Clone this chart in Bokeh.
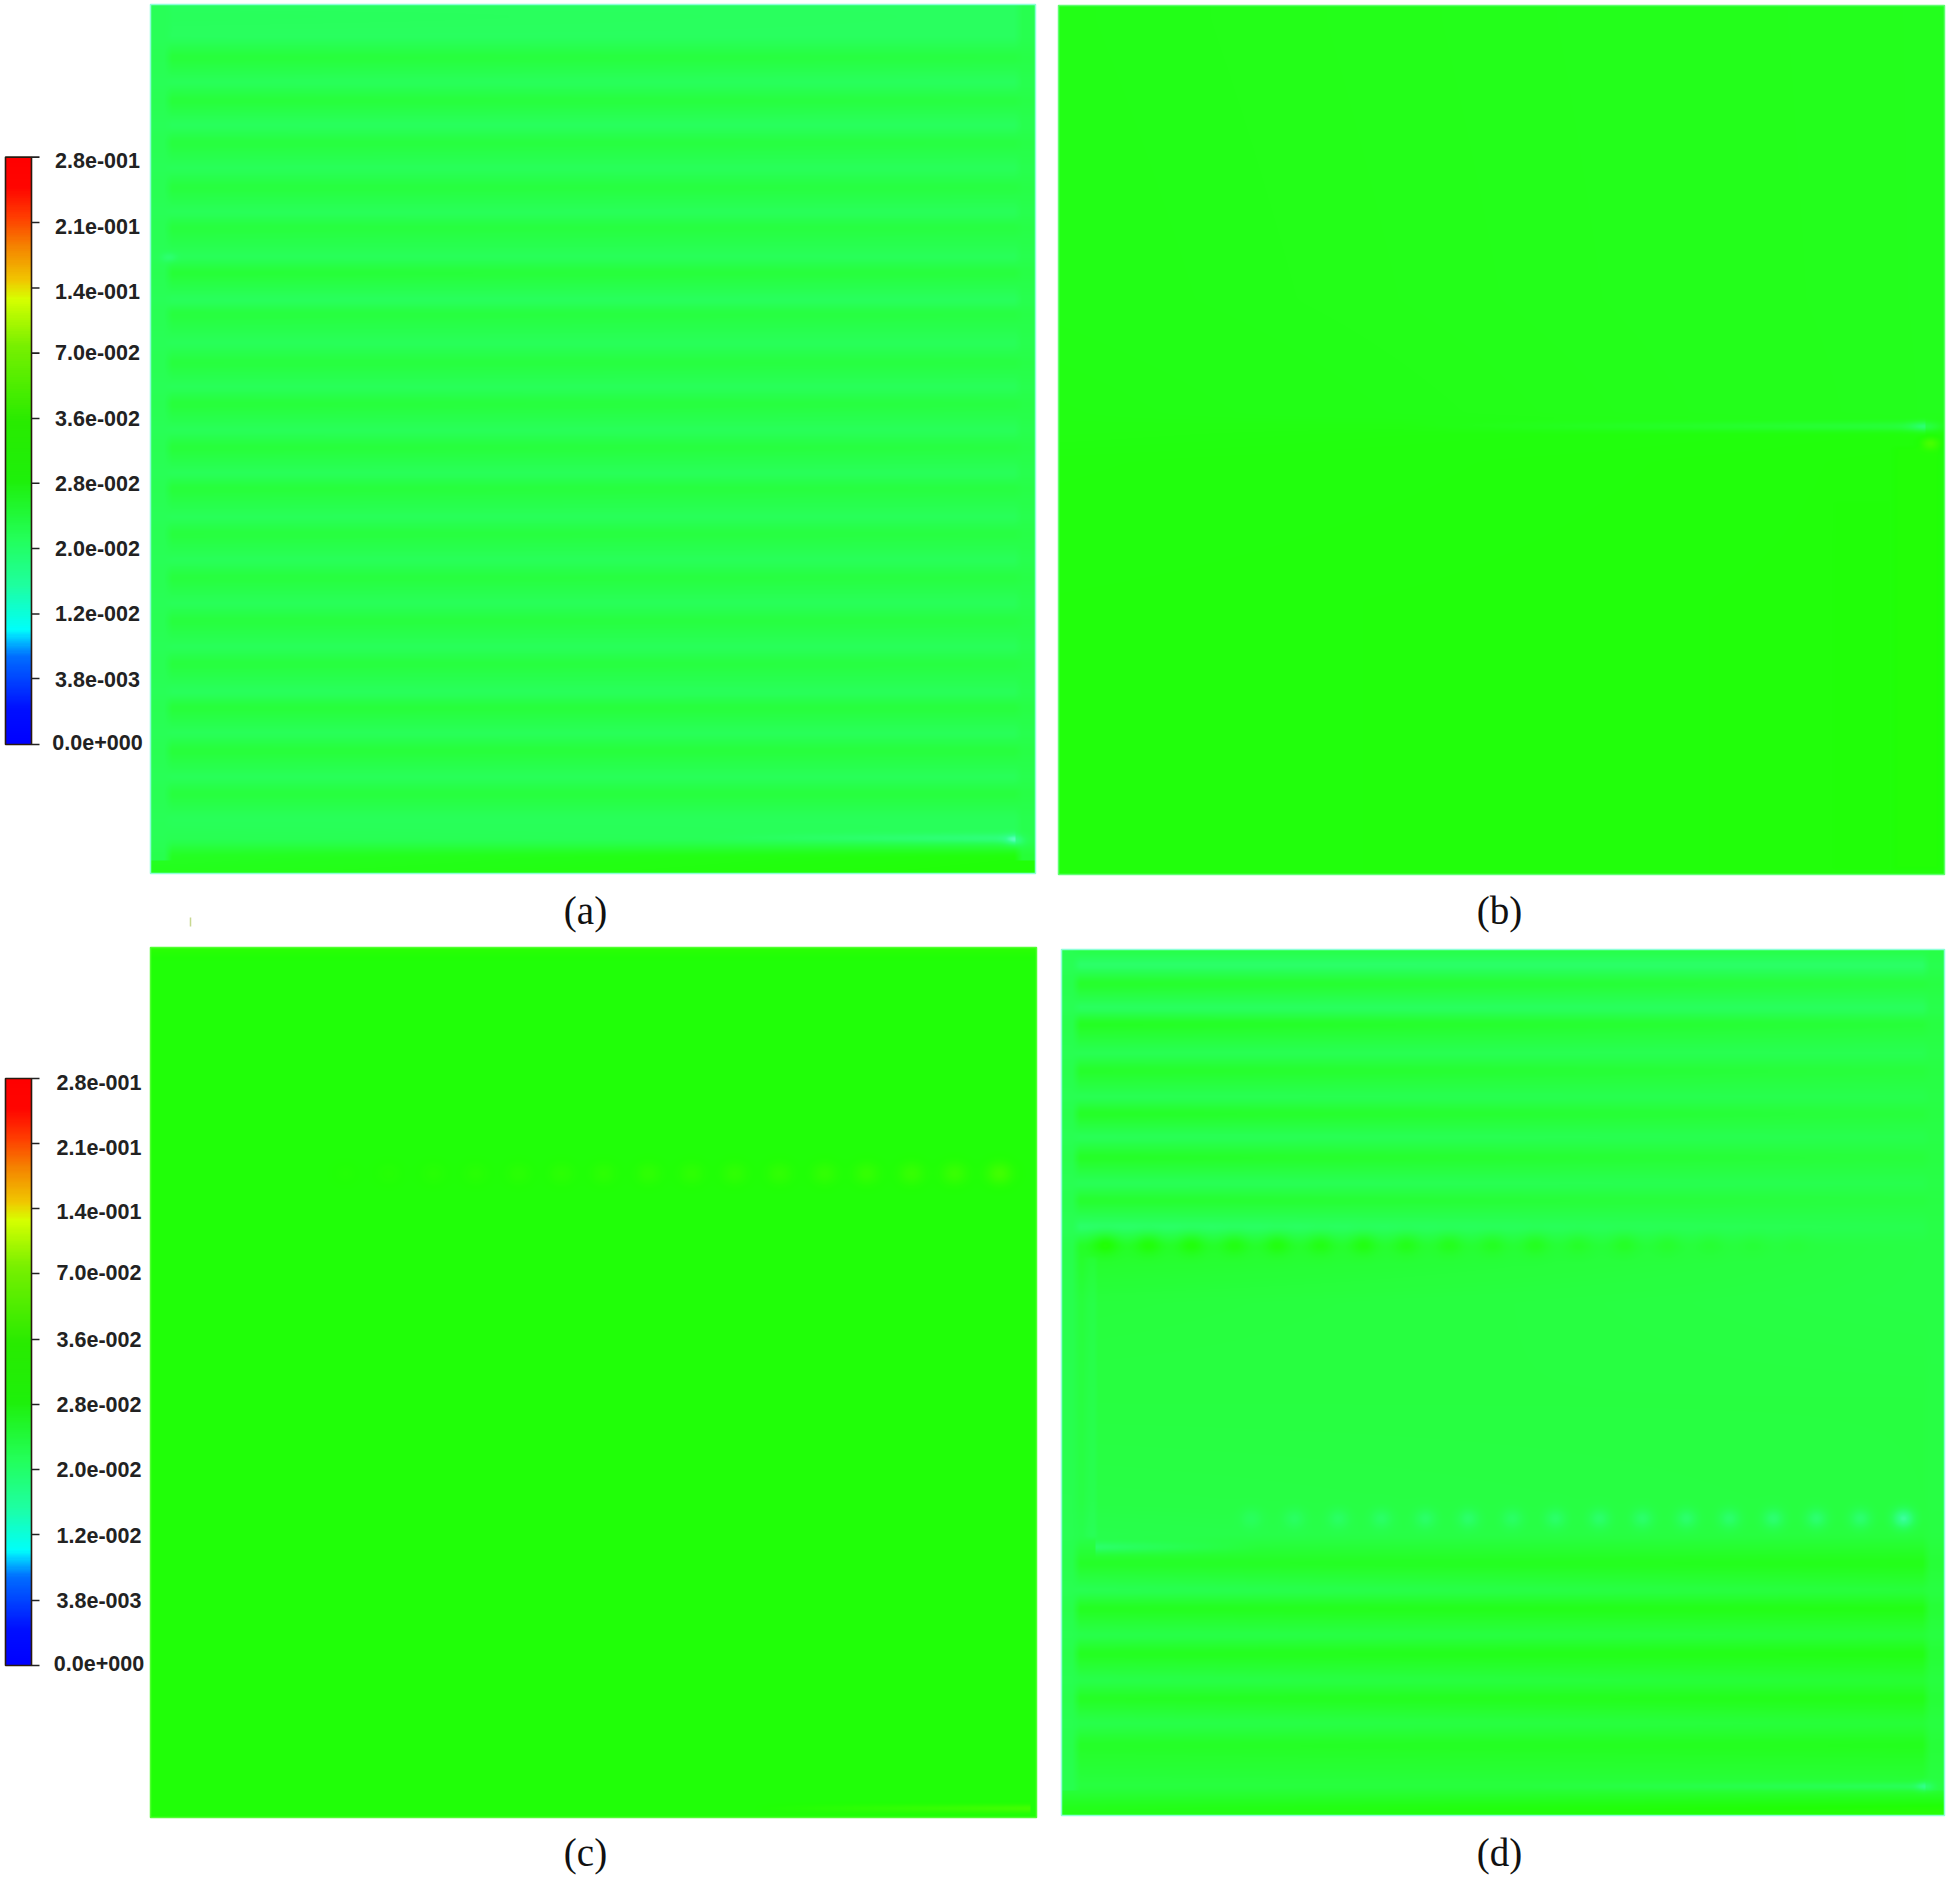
import numpy as np
from bokeh.plotting import figure
from bokeh.models import Range1d, LinearColorMapper
from bokeh.core.properties import value
from bokeh.embed import file_html
from bokeh.resources import INLINE

# colour bar
bar_labels = ["2.8e-001","2.1e-001","1.4e-001","7.0e-002","3.6e-002","2.8e-002","2.0e-002","1.2e-002","3.8e-003","0.0e+000"]
bar_stop_pos = [0,.06,.15,.185,.195,.27,.35,.45,.55,.68,.76,.79,.85,.9,.95,1]
bar_stop_rgb = [(0,0,255),(0,15,255),(0,110,255),(0,220,255),(0,255,250),(30,255,160),(35,255,90),(30,240,10),
                (40,235,0),(120,240,0),(215,255,0),(240,200,0),(245,130,0),(255,60,0),(255,5,0),(255,0,0)]
bar_ticks_top = [156.6,222,287.5,352.6,418,482.7,548,613.5,678,744]
bar_label_top = [160.4,226,291,352,418,482.5,548,613,679,742]
bar_ticks_bot = [1078,1143,1208,1273,1339,1404,1469,1534,1600,1665]
bar_label_bot = [1082,1147,1211,1272,1339,1404,1469,1535,1600,1663]

# field levels: -1 yellow-green ... 0 pure green ... 2 pale green ... 4 cyan-green
level_pos = [-1,0,1,2,3,4]
level_rgb = [(75,255,0),(32,255,6),(38,255,48),(40,255,90),(50,255,140),(120,255,225)]

panel_names = ["(a)","(b)","(c)","(d)"]

a_y = [4,15,37,57,82,100,125,142,168,187,212,227,257,272,300,313,343,362,387,403,430,447,473,488,517,533,560,577,603,620,647,663,692,707,733,750,777,793,818,840,855,873]
a_left = [2.1,2.0,2.1,1.2,2.0,1.2,2.1,1.3,2.0,1.3,2.0,1.3,2.0,1.1,2.1,1.3,2.0,1.3,2.0,1.2,2.0,1.2,2.0,1.2,2.0,1.3,2.0,1.3,2.0,1.3,2.0,1.3,2.1,1.2,2.0,1.2,2.0,1.3,2.0,1.8,.7,.5]
a_right = [2.1,2.1,2.1,1.4,2.1,1.4,2.1,1.4,2.0,1.4,2.0,1.4,2.0,1.3,2.1,1.4,2.0,1.4,2.0,1.4,2.0,1.4,2.0,1.4,2.0,1.4,2.0,1.4,2.0,1.4,2.0,1.4,2.0,1.3,2.0,1.3,2.0,1.3,2.0,2.0,.1,0.0]

b_y = [5,20,300,415,432,460,600,874]
b_left = [.4,.4,.38,.32,.28,.2,.15,.15]
b_right = [.55,.55,.55,.55,.12,.1,.1,.1]

c_y = [947,952,960,1400,1817]
c_left = [-.3,-.1,.05,.05,.05]
c_right = [-.3,-.1,.05,.05,.05]

d_y = [949,965,983,1008,1023,1053,1070,1097,1113,1137,1157,1183,1200,1227,1245,1300,1400,1500,1535,1563,1590,1608,1635,1653,1680,1698,1723,1744,1786,1807,1815]
d_left = [1.5,2.4,.8,2.2,.6,1.9,.8,1.9,.7,2.0,.7,2.0,.9,2.4,.8,1.3,1.4,1.5,1.7,.8,1.9,.6,1.7,.6,1.7,.7,1.7,.8,1.4,.5,.4]
d_right = [1.5,2.3,1.3,2.1,1.2,1.8,1.3,1.7,1.3,1.7,1.3,1.7,1.4,1.7,1.5,1.5,1.4,1.4,1.3,.4,1.3,.3,1.2,.3,1.1,.4,1.2,.5,1.3,-.1,-.2]

# spots: x, y, amount
c_dot_x = [999,954,911,866,824,779,734,691,648,603,561,518,475,433,388,345]
c_dot_amp = [-.8,-.6,-.55,-.5,-.45,-.42,-.4,-.36,-.38,-.32,-.3,-.26,-.22,-.2,-.16,-.1]
d_dark_x = [1105,1148,1191,1234,1277,1320,1363,1406,1449,1492,1535,1578,1624,1667,1710,1753,1796]
d_dark_amp = [-1.0,-.85,-.85,-.7,-.8,-.7,-.8,-.65,-.6,-.5,-.6,-.4,-.5,-.35,-.25,-.18,-.12]
d_light_x = [1251,1294,1338,1381,1425,1468,1512,1555,1599,1642,1686,1729,1773,1816,1860,1903]
d_light_amp = [.5,.6,.65,.7,.75,.8,.7,.8,.85,.85,.9,.9,1.0,1.0,1.0,1.8]

LAYOUT = {
 "a": dict(x=150,y=4,w=885,h=869,edge="#8dffd8",ys=a_y,l=a_left,r=a_right,margin=(16,1.9,15,1.6,860)),
 "b": dict(x=1058,y=5,w=886,h=869,edge="#60ff70",ys=b_y,l=b_left,r=b_right,margin=None),
 "c": dict(x=150,y=947,w=886,h=870,edge="#50ff30",ys=c_y,l=c_left,r=c_right,margin=None),
 "d": dict(x=1061,y=949,w=883,h=866,edge="#8dffd8",ys=d_y,l=d_left,r=d_right,margin=(13,1.8,16,1.5,1790)),
}

def stops_palette(pos, rgb, n=256):
    t = np.linspace(pos[0], pos[-1], n)
    c = np.array(rgb, float)
    out = np.stack([np.interp(t, pos, c[:, i]) for i in range(3)], 1).round().astype(int)
    return ["#%02x%02x%02x" % tuple(v) for v in out]

def build(P, spots, streaks, boxes):
    yy = np.arange(P["h"]) + P["y"] + .5
    xx = np.arange(P["w"]) + P["x"] + .5
    kernel = np.ones(7) / 7
    def prof(v):
        s = np.interp(yy, P["ys"], v)
        pad = np.pad(s, 3, mode="edge")
        return np.convolve(pad, kernel, "valid")
    L, R = prof(P["l"]), prof(P["r"])
    t = (xx - P["x"]) / P["w"]
    Z = L[:, None] * (1 - t) + R[:, None] * t
    if P["margin"]:
        ml, vl, mr, vr, ylim = P["margin"]
        wl = np.clip((P["x"] + ml + 6 - xx) / 8, 0, 1)
        wr = np.clip((xx - (P["x"] + P["w"] - mr - 6)) / 8, 0, 1)
        ok = (yy < ylim).astype(float)[:, None]
        Z = Z + (vl - Z) * wl * ok * .85
        Z = Z + (vr - Z) * wr * ok * .7
    X, Y = np.meshgrid(xx, yy)
    for sx0, sy0, sgx, sgy, amp in spots:
        Z += amp * np.exp(-((X - sx0) / sgx) ** 2 - ((Y - sy0) / sgy) ** 2)
    for x0, x1, sy0, sg, a0, a1 in streaks:
        ramp = np.interp(xx, [x0, x1], [a0, a1], left=0, right=0)
        Z += ramp[None, :] * np.exp(-((yy - sy0) / sg) ** 2)[:, None]
    for x0, x1, y0, y1, amp in boxes:
        wx = np.clip((xx - x0) / 8, 0, 1) * np.clip((x1 - xx) / 4, 0, 1)
        wy = np.clip((yy - y0) / 4, 0, 1) * np.clip((y1 - yy) / 4, 0, 1)
        Z += amp * wy[:, None] * wx[None, :]
    return Z.astype("float32")

SPOTS = {
 "a": [(1015,840,10,6,1.0),(168,257,8,5,.5)],
 "b": [(1925,426,16,5,1.2),(1930,443,9,6,-1.0)],
 "c": [(x,1173,13,11,a) for x,a in zip(c_dot_x,c_dot_amp)],
 "d": [(x,1243,13,11,a) for x,a in zip(d_dark_x,d_dark_amp)]
      + [(x,1518,11,10,a) for x,a in zip(d_light_x,d_light_amp)]
      + [(1925,1786,9,5,1.0)],
}
STREAKS = {
 "a": [(700,1015,838,5,0,.7)],
 "b": [(1400,1925,426,5,0,1.0)],
 "c": [(750,1030,1808,4,0,-.85)],
 "d": [(1095,1260,1547,6,1.0,0),(1500,1925,1786,4,0,.7)],
}
BOXES = {"a": [], "b": [(1890,1940,445,870,-.14),(1830,1890,500,870,-.05)], "c": [], "d": [(1082,1098,1255,1540,.25)]}

p = figure(width=1950, height=1887, output_backend="svg", toolbar_location=None,
           x_range=Range1d(0, 1950), y_range=Range1d(1887, 0), min_border=0,
           background_fill_color="white", border_fill_color="white",
           outline_line_color=None)
p.axis.visible = False
p.grid.visible = False

field_mapper = LinearColorMapper(palette=stops_palette(level_pos, level_rgb), low=level_pos[0], high=level_pos[-1])
for key, P in LAYOUT.items():
    Z = build(P, SPOTS[key], STREAKS[key], BOXES[key])
    p.image(image=[Z], x=P["x"], y=P["y"], dw=P["w"], dh=P["h"], color_mapper=field_mapper)
    p.quad(left=[P["x"]], right=[P["x"] + P["w"]], top=[P["y"]], bottom=[P["y"] + P["h"]],
           fill_color=None, line_color=P["edge"], line_width=1.5)

bar_mapper = LinearColorMapper(palette=stops_palette(bar_stop_pos, bar_stop_rgb), low=0, high=1)
grad = np.linspace(0, 1, 256).reshape(-1, 1)[::-1]
for ticks, laby, dx in [(bar_ticks_top, bar_label_top, 0), (bar_ticks_bot, bar_label_bot, 1.5)]:
    p.image(image=[grad], x=5, y=ticks[0], dw=26, dh=ticks[-1] - ticks[0], color_mapper=bar_mapper)
    p.quad(left=[5], right=[31], top=[ticks[0]], bottom=[ticks[-1]], fill_color=None, line_color="#2a1a10", line_width=1.6)
    p.segment(x0=[31] * len(ticks), x1=[39] * len(ticks), y0=ticks, y1=ticks, line_color="#222222", line_width=1.6)
    p.text(x=[97 + dx] * len(ticks), y=laby, text=bar_labels, text_font=value("Liberation Sans"),
           text_font_size="21.5px", text_font_style="bold", text_color="#222222", text_align="center", text_baseline="middle")

p.segment(x0=[190], x1=[190], y0=[917], y1=[926], line_color="#c8d890", line_width=1.5)

cap_x = [585, 1499, 585, 1499]
cap_y = [910, 910, 1852, 1852]
p.text(x=cap_x, y=cap_y, text=panel_names, text_font=value("Liberation Serif"), text_font_size="39px",
       text_color="#111111", text_align="center", text_baseline="middle")

open("out.html", "w").write(file_html(p, INLINE))
